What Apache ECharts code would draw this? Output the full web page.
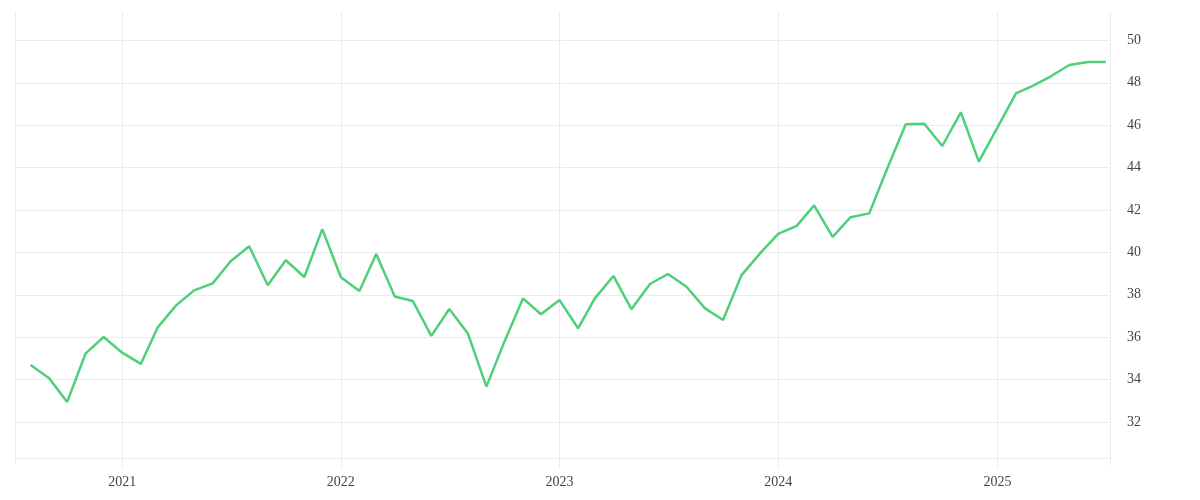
<!DOCTYPE html>
<html>
<head>
<meta charset="utf-8">
<script src="https://cdn.jsdelivr.net/npm/echarts@6/dist/echarts.min.js"></script>
<style>
html,body{margin:0;padding:0;background:#fff;}
#chart{width:1200px;height:500px;}
</style>
</head>
<body>
<div id="chart"></div>
<script>
const months = [
  '2020-08-01','2020-09-01','2020-10-01','2020-11-01','2020-12-01',
  '2021-01-01','2021-02-01','2021-03-01','2021-04-01','2021-05-01','2021-06-01','2021-07-01','2021-08-01','2021-09-01','2021-10-01','2021-11-01','2021-12-01',
  '2022-01-01','2022-02-01','2022-03-01','2022-04-01','2022-05-01','2022-06-01','2022-07-01','2022-08-01','2022-09-01','2022-10-01','2022-11-01','2022-12-01',
  '2023-01-01','2023-02-01','2023-03-01','2023-04-01','2023-05-01','2023-06-01','2023-07-01','2023-08-01','2023-09-01','2023-10-01','2023-11-01','2023-12-01',
  '2024-01-01','2024-02-01','2024-03-01','2024-04-01','2024-05-01','2024-06-01','2024-07-01','2024-08-01','2024-09-01','2024-10-01','2024-11-01','2024-12-01',
  '2025-01-01','2025-02-01','2025-03-01','2025-04-01','2025-05-01','2025-06-01','2025-07-01'
];
const values = [
  34.69, 34.06, 32.94, 35.24, 36.01,
  35.27, 34.74, 36.45, 37.50, 38.21, 38.54, 39.58, 40.29, 38.45, 39.63, 38.84, 41.10,
  38.83, 38.18, 39.92, 37.92, 37.71, 36.06, 37.33, 36.18, 33.67, 35.79, 37.83, 37.08,
  37.75, 36.42, 37.83, 38.89, 37.32, 38.51, 38.98, 38.38, 37.36, 36.81, 38.93, 39.93,
  40.87, 41.25, 42.22, 40.73, 41.66, 41.84, 43.95, 46.04, 46.07, 45.02, 46.61, 44.28,
  45.89, 47.50, 47.86, 48.32, 48.84, 48.98, 48.98
];
const yMin = 30;
const yMax = 51.34;
const yStep = 2;
const baselineValue = 30.29;

const chart = echarts.init(document.getElementById('chart'));
const gridColor = '#ebebeb';
const textStyle = { fontFamily: 'Liberation Serif', fontSize: 14, color: '#444' };
chart.setOption({
  animation: false,
  grid: { left: 15, right: 90, top: 12, bottom: 35.6, containLabel: false },
  xAxis: {
    type: 'time',
    min: new Date('2020-07-06').getTime(),
    max: new Date('2025-07-08').getTime(),
    minInterval: 365 * 24 * 3600 * 1000,
    axisLine: { show: false },
    axisTick: { show: true, length: 4, lineStyle: { color: gridColor } },
    splitLine: { show: true, lineStyle: { color: gridColor, width: 1 } },
    axisLabel: Object.assign({ formatter: '{yyyy}', margin: 11, showMinLabel: false, showMaxLabel: false }, textStyle)
  },
  yAxis: {
    type: 'value',
    position: 'right',
    min: yMin,
    max: yMax,
    interval: yStep,
    axisLine: { show: true, lineStyle: { color: gridColor, width: 1 } },
    axisTick: { show: false },
    splitLine: { show: true, showMinLine: false, showMaxLine: false, lineStyle: { color: gridColor, width: 1 } },
    axisLabel: Object.assign({
      margin: 17,
      showMinLabel: false,
      showMaxLabel: false
    }, textStyle)
  },
  series: [{
    type: 'line',
    data: months.map((m, i) => [m, values[i]]),
    showSymbol: false,
    lineStyle: { color: '#4ed07a', width: 2.5 },
    itemStyle: { color: '#4ed07a' },
    markLine: {
      silent: true,
      symbol: 'none',
      label: { show: false },
      lineStyle: { color: gridColor, type: 'solid', width: 1 },
      data: [{ yAxis: baselineValue }]
    }
  }]
});
</script>
</body>
</html>
